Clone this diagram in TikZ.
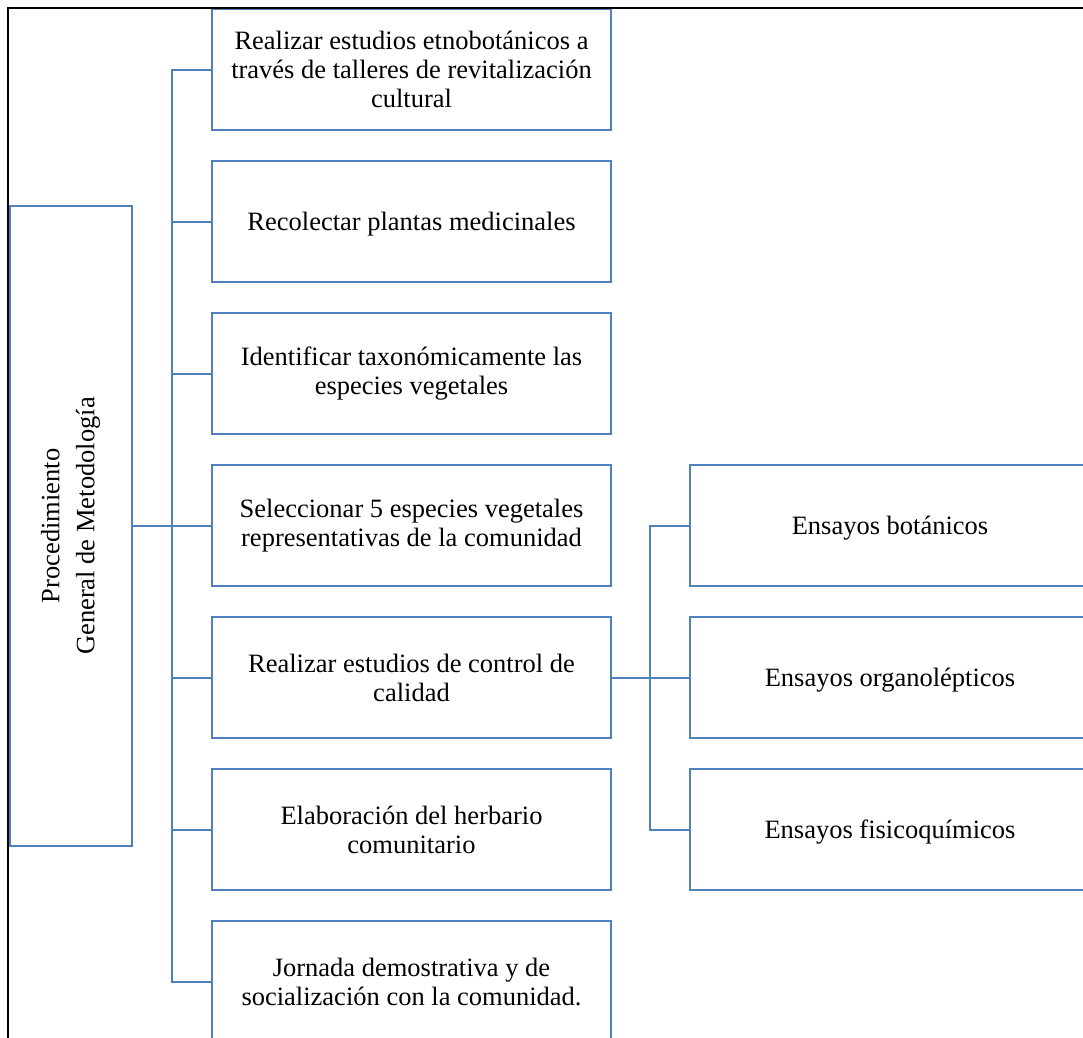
\documentclass[tikz,border=0pt]{standalone}
\usepackage{fontspec}
\setmainfont{Liberation Serif}
\definecolor{boxblue}{RGB}{79,129,189}
\begin{document}
\begin{tikzpicture}[x=1pt,y=-1pt,
  box/.style={draw=boxblue, line width=2pt, minimum width=399pt, minimum height=121pt,
    inner sep=0pt, align=center, anchor=north west,
    font=\fontsize{26.5}{29}\selectfont,
    execute at begin node={\rule{0pt}{24pt}}},
  side/.style={box, minimum width=400pt},
  link/.style={draw=boxblue, line width=2pt}]
\useasboundingbox (0,0) rectangle (1083,1037);
\begin{scope}
  \clip (8,8) rectangle (1083,1037);
  % root box with vertical title
  \node[draw=boxblue, line width=2pt, minimum width=122pt, minimum height=640pt,
        inner sep=0pt, anchor=north west] (root) at (9,205)
        {\rotatebox{90}{\fontsize{26.5}{29}\selectfont
         \begin{tabular}{@{}c@{}}Procedimiento\\[6pt]General de Metodología\end{tabular}}};
  % steps of the procedure
  \node[box] (s1) at (211,8)   {Realizar estudios etnobotánicos a\\través de talleres de revitalización\\cultural};
  \node[box] (s2) at (211,160) {Recolectar plantas medicinales};
  \node[box] (s3) at (211,312) {Identificar taxonómicamente las\\especies vegetales};
  \node[box] (s4) at (211,464) {Seleccionar 5 especies vegetales\\representativas de la comunidad};
  \node[box] (s5) at (211,616) {Realizar estudios de control de\\calidad};
  \node[box] (s6) at (211,768) {Elaboración del herbario\\comunitario};
  \node[box] (s7) at (211,920) {Jornada demostrativa y de\\socialización con la comunidad.};
  % quality control tests
  \node[side] (q1) at (689,464) {Ensayos botánicos};
  \node[side] (q2) at (689,616) {Ensayos organolépticos};
  \node[side] (q3) at (689,768) {Ensayos fisicoquímicos};
  % trunk joining the root to the steps
  \coordinate (trunk) at (172,0);
  \draw[link] (s1.west) -- (s1.west -| trunk) -- (s7.west -| trunk) -- (s7.west);
  \foreach \s in {s2,s3,s4,s5,s6} \draw[link] (\s.west) -- (\s.west -| trunk);
  \draw[link] (root.east) -- (root.east -| trunk);
  % branch to the quality control tests
  \coordinate (fork) at (650,0);
  \draw[link] (q1.west) -- (q1.west -| fork) -- (q3.west -| fork) -- (q3.west);
  \draw[link] (s5.east) -- (q2.west);
\end{scope}
% page frame
\draw[black, line width=2pt] (8,1038) -- (8,8) -- (1084,8);
\end{tikzpicture}
\end{document}
